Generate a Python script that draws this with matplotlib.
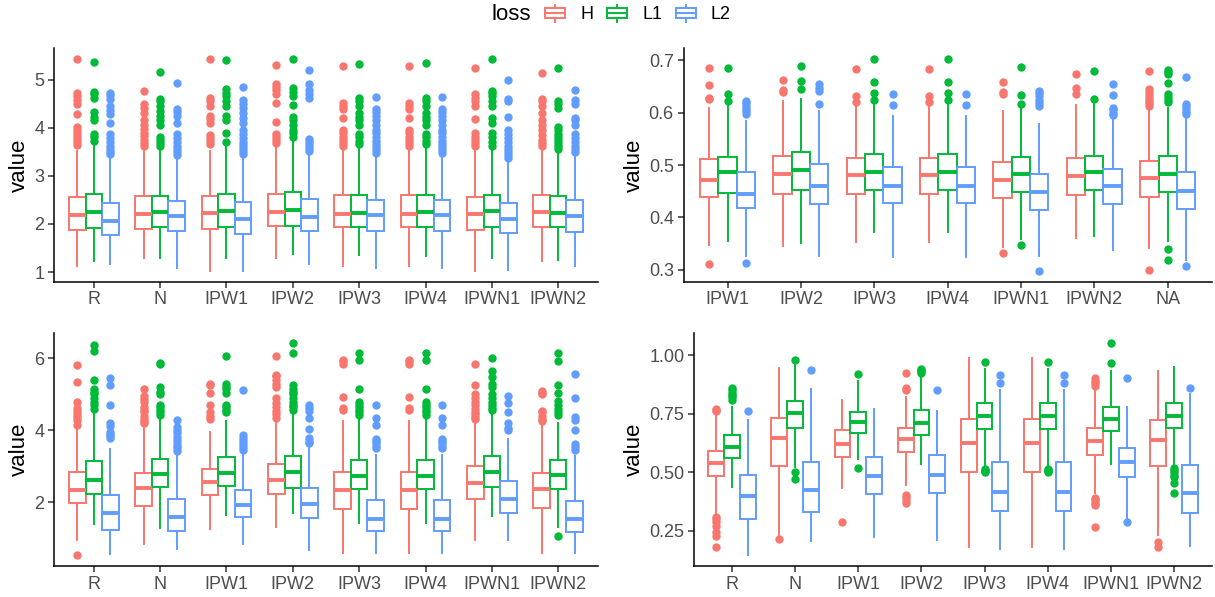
import matplotlib
matplotlib.use("Agg")
import matplotlib.pyplot as plt
from matplotlib.legend_handler import HandlerBase
from matplotlib.patches import Rectangle
from matplotlib.lines import Line2D

plt.rcParams['font.family'] = ['Liberation Sans', 'DejaVu Sans']

losses = ['H', 'L1', 'L2']
colors = {'H': '#F8766D', 'L1': '#00BA38', 'L2': '#619CFF'}

# each box: (whisker low, q1, median, q3, whisker high)

# ---- top left
p1_cats = ['R', 'N', 'IPW1', 'IPW2', 'IPW3', 'IPW4', 'IPWN1', 'IPWN2']
p1_H = [(1.12, 1.87, 2.19, 2.57, 3.52), (1.30, 1.90, 2.21, 2.58, 3.55), (1.02, 1.89, 2.23, 2.59, 3.52),
        (1.29, 1.95, 2.24, 2.63, 3.60), (1.12, 1.93, 2.21, 2.60, 3.55), (1.12, 1.93, 2.21, 2.60, 3.55),
        (1.02, 1.87, 2.20, 2.56, 3.52), (1.23, 1.94, 2.24, 2.60, 3.52)]
p1_L1 = [(1.24, 1.92, 2.24, 2.62, 3.62), (1.30, 1.93, 2.24, 2.59, 3.56), (1.30, 1.93, 2.26, 2.62, 3.62),
         (1.38, 1.96, 2.28, 2.66, 3.70), (1.36, 1.93, 2.23, 2.61, 3.60), (1.34, 1.93, 2.24, 2.61, 3.60),
         (1.30, 1.94, 2.26, 2.60, 3.56), (1.26, 1.94, 2.23, 2.58, 3.50)]
p1_L2 = [(1.17, 1.78, 2.06, 2.43, 3.38), (1.09, 1.86, 2.17, 2.48, 3.39), (1.03, 1.80, 2.11, 2.45, 3.40),
         (1.17, 1.86, 2.14, 2.52, 3.45), (1.09, 1.85, 2.18, 2.49, 3.42), (1.09, 1.85, 2.18, 2.49, 3.42),
         (1.04, 1.81, 2.10, 2.43, 3.33), (1.12, 1.84, 2.17, 2.49, 3.45)]
p1_H_out = [[3.64, 3.7, 3.76, 3.82, 3.88, 3.95, 4.02, 4.28, 4.5, 4.58, 4.65, 4.72, 5.42],
            [3.62, 3.68, 3.75, 3.82, 3.9, 3.98, 4.06, 4.15, 4.3, 4.4, 4.5, 4.77],
            [3.66, 3.72, 3.78, 3.84, 4.1, 4.18, 4.25, 4.45, 4.55, 4.62, 5.42],
            [3.68, 3.74, 3.8, 3.86, 4.12, 4.52, 4.7, 4.78, 4.85, 4.9, 5.31],
            [3.62, 3.68, 3.74, 3.8, 3.88, 3.96, 4.2, 4.38, 4.45, 4.52, 5.29],
            [3.62, 3.68, 3.74, 3.8, 3.88, 3.96, 4.2, 4.38, 4.45, 4.52, 5.29],
            [3.62, 3.68, 3.74, 3.8, 3.9, 4.18, 4.45, 4.55, 4.62, 4.7, 5.25],
            [3.62, 3.68, 3.75, 3.85, 3.95, 4.05, 4.15, 4.3, 4.45, 4.55, 4.6, 5.14]]
p1_L1_out = [[3.72, 3.8, 3.86, 4.15, 4.22, 4.32, 4.62, 4.7, 4.74, 5.36],
             [3.62, 3.68, 3.74, 3.8, 4.05, 4.15, 4.25, 4.35, 4.45, 4.55, 4.6, 5.16],
             [3.7, 3.9, 4.15, 4.25, 4.45, 4.55, 4.65, 4.72, 4.8, 5.41],
             [3.8, 3.88, 3.95, 4.05, 4.15, 4.22, 4.48, 4.65, 4.75, 4.82, 5.43],
             [3.66, 3.72, 3.8, 3.86, 4.05, 4.15, 4.22, 4.3, 4.45, 4.55, 4.62, 5.33],
             [3.66, 3.72, 3.8, 3.86, 4.05, 4.15, 4.22, 4.3, 4.45, 4.55, 4.62, 5.34],
             [3.62, 3.7, 3.8, 3.9, 4.1, 4.2, 4.45, 4.55, 4.65, 4.72, 4.77, 5.42],
             [3.56, 3.62, 3.68, 3.74, 3.8, 3.86, 3.95, 4.02, 4.42, 4.5, 4.56, 5.24]]
p1_L2_out = [[3.45, 3.5, 3.56, 3.62, 3.7, 3.78, 3.86, 4.1, 4.28, 4.36, 4.45, 4.6, 4.67, 4.72],
             [3.44, 3.5, 3.56, 3.62, 3.7, 3.78, 3.86, 4.1, 4.25, 4.32, 4.38, 4.92],
             [3.46, 3.52, 3.58, 3.64, 3.7, 3.78, 3.86, 3.95, 4.1, 4.2, 4.3, 4.4, 4.5, 4.58, 4.85],
             [3.52, 3.58, 3.64, 3.7, 3.76, 4.62, 4.7, 4.78, 4.9, 5.19],
             [3.48, 3.54, 3.6, 3.66, 3.72, 3.8, 3.88, 3.96, 4.05, 4.15, 4.25, 4.32, 4.38, 4.63],
             [3.48, 3.54, 3.6, 3.66, 3.72, 3.8, 3.88, 3.96, 4.05, 4.15, 4.25, 4.32, 4.38, 4.63],
             [3.38, 3.44, 3.5, 3.56, 3.62, 3.7, 3.78, 3.86, 3.95, 4.22, 4.55, 4.6, 4.99],
             [3.5, 3.56, 3.62, 3.7, 3.78, 3.86, 4.05, 4.15, 4.2, 4.5, 4.58, 4.78]]

# ---- top right
p2_cats = ['IPW1', 'IPW2', 'IPW3', 'IPW4', 'IPWN1', 'IPWN2', 'NA']
p2_H = [(0.346, 0.438, 0.472, 0.511, 0.610), (0.345, 0.445, 0.483, 0.518, 0.623), (0.353, 0.445, 0.480, 0.513, 0.618),
        (0.353, 0.445, 0.480, 0.513, 0.618), (0.343, 0.436, 0.471, 0.506, 0.604), (0.360, 0.443, 0.478, 0.513, 0.614),
        (0.341, 0.438, 0.476, 0.508, 0.603)]
p2_L1 = [(0.354, 0.447, 0.486, 0.515, 0.612), (0.350, 0.452, 0.490, 0.525, 0.627), (0.371, 0.453, 0.486, 0.521, 0.618),
         (0.371, 0.453, 0.486, 0.521, 0.618), (0.359, 0.448, 0.483, 0.515, 0.610), (0.364, 0.452, 0.486, 0.518, 0.617),
         (0.354, 0.448, 0.483, 0.517, 0.610)]
p2_L2 = [(0.325, 0.418, 0.445, 0.487, 0.585), (0.325, 0.425, 0.460, 0.501, 0.604), (0.324, 0.427, 0.460, 0.496, 0.594),
         (0.324, 0.427, 0.460, 0.496, 0.594), (0.325, 0.413, 0.449, 0.483, 0.579), (0.337, 0.425, 0.460, 0.492, 0.590),
         (0.319, 0.415, 0.450, 0.487, 0.590)]
p2_H_out = [[0.31, 0.627, 0.628, 0.653, 0.686], [0.64, 0.644, 0.663], [0.62, 0.632, 0.684],
            [0.62, 0.632, 0.684], [0.332, 0.636, 0.64, 0.658], [0.636, 0.647, 0.674],
            [0.30, 0.613, 0.618, 0.623, 0.628, 0.634, 0.64, 0.646, 0.68]]
p2_L1_out = [[0.622, 0.636, 0.685], [0.645, 0.661, 0.690], [0.624, 0.638, 0.659, 0.703],
             [0.624, 0.638, 0.659, 0.703], [0.346, 0.617, 0.634, 0.688], [0.626, 0.68],
             [0.319, 0.34, 0.62, 0.625, 0.63, 0.635, 0.657, 0.675, 0.678, 0.682]]
p2_L2_out = [[0.312, 0.598, 0.603, 0.608, 0.613, 0.618, 0.622], [0.617, 0.641, 0.648, 0.655], [0.615, 0.635],
             [0.615, 0.635], [0.297, 0.612, 0.618, 0.625, 0.632, 0.637, 0.642], [0.595, 0.6, 0.605, 0.61, 0.634, 0.655],
             [0.307, 0.597, 0.602, 0.607, 0.612, 0.617, 0.668]]

# ---- bottom left
p3_cats = ['R', 'N', 'IPW1', 'IPW2', 'IPW3', 'IPW4', 'IPWN1', 'IPWN2']
p3_H = [(0.95, 1.98, 2.35, 2.84, 4.05), (0.84, 1.90, 2.41, 2.82, 4.08), (1.26, 2.20, 2.56, 2.94, 3.95),
        (1.32, 2.24, 2.63, 3.07, 4.30), (0.60, 1.81, 2.35, 2.85, 4.27), (0.60, 1.81, 2.35, 2.85, 4.27),
        (0.95, 2.11, 2.54, 3.00, 4.27), (0.61, 1.86, 2.36, 2.82, 4.20)]
p3_L1 = [(1.40, 2.24, 2.62, 3.16, 4.50), (1.28, 2.42, 2.80, 3.21, 4.36), (1.64, 2.46, 2.83, 3.25, 4.27),
         (1.70, 2.40, 2.85, 3.28, 4.50), (1.44, 2.37, 2.74, 3.19, 4.36), (1.44, 2.37, 2.74, 3.19, 4.36),
         (1.63, 2.42, 2.84, 3.28, 4.50), (1.31, 2.37, 2.77, 3.18, 4.21)]
p3_L2 = [(0.58, 1.24, 1.70, 2.20, 3.48), (0.70, 1.20, 1.59, 2.09, 3.32), (0.84, 1.59, 1.93, 2.34, 3.31),
         (0.68, 1.56, 1.95, 2.40, 3.60), (0.60, 1.20, 1.54, 2.07, 3.32), (0.60, 1.20, 1.54, 2.07, 3.32),
         (0.97, 1.72, 2.11, 2.60, 3.77), (0.61, 1.19, 1.55, 2.05, 3.28)]
p3_H_out = [[0.53, 4.15, 4.3, 4.38, 4.45, 4.55, 4.62, 4.8, 5.35, 5.82],
            [4.2, 4.25, 4.32, 4.4, 4.5, 4.58, 4.66, 4.8, 4.88, 4.95, 5.15],
            [4.32, 4.4, 4.5, 4.7, 5.05, 5.25, 5.3],
            [4.35, 4.45, 4.55, 4.65, 4.75, 4.9, 5.2, 5.3, 5.4, 5.5, 5.55, 6.08],
            [4.58, 4.62, 4.92, 5.85, 5.92, 5.97],
            [4.58, 4.62, 4.92, 5.85, 5.92, 5.97],
            [4.32, 4.38, 4.45, 4.52, 4.6, 4.7, 4.8, 4.9, 5.0, 5.27, 5.85],
            [4.25, 4.32, 4.4, 4.5, 4.55, 5.0, 5.05, 5.1]]
p3_L1_out = [[4.6, 4.7, 4.8, 4.9, 5.0, 5.08, 5.15, 5.4, 6.2, 6.38],
             [4.42, 4.5, 4.58, 4.65, 4.72, 5.0, 5.08, 5.22, 5.85, 5.88],
             [4.5, 4.58, 4.65, 4.72, 5.05, 5.15, 5.22, 5.28, 6.07],
             [4.58, 4.65, 4.72, 4.8, 4.9, 5.0, 5.08, 5.15, 5.25, 6.15, 6.42],
             [4.42, 4.5, 4.58, 4.65, 4.72, 4.8, 5.15, 5.95, 6.15],
             [4.42, 4.5, 4.58, 4.65, 4.72, 4.8, 5.15, 5.95, 6.15],
             [4.56, 4.62, 4.7, 4.8, 4.9, 5.0, 5.22, 5.3, 5.48, 5.65, 6.0],
             [1.07, 4.42, 4.5, 4.6, 4.7, 4.82, 5.05, 5.25, 5.92, 6.15]]
p3_L2_out = [[3.8, 3.85, 3.9, 3.95, 4.12, 4.2, 4.7, 5.25, 5.45],
             [3.42, 3.5, 3.58, 3.66, 3.74, 3.82, 3.92, 4.02, 4.1, 4.28],
             [3.45, 3.55, 3.62, 3.7, 3.78, 3.86, 5.12],
             [3.66, 3.72, 3.8, 4.05, 4.35, 4.55, 4.62, 4.7],
             [3.52, 3.58, 3.64, 3.7, 3.76, 4.15, 4.35, 4.72],
             [3.52, 3.58, 3.64, 3.7, 3.76, 4.15, 4.35, 4.72],
             [4.0, 4.08, 4.2, 4.5, 4.75, 4.95],
             [3.45, 3.55, 3.62, 4.0, 4.3, 4.36, 4.9, 5.57]]

# ---- bottom right
p4_cats = ['R', 'N', 'IPW1', 'IPW2', 'IPW3', 'IPW4', 'IPWN1', 'IPWN2']
p4_H = [(0.32, 0.483, 0.539, 0.593, 0.75), (0.235, 0.529, 0.648, 0.730, 0.943), (0.434, 0.564, 0.620, 0.680, 0.808),
        (0.445, 0.586, 0.641, 0.690, 0.82), (0.182, 0.502, 0.626, 0.727, 0.987), (0.182, 0.502, 0.626, 0.727, 0.987),
        (0.41, 0.574, 0.634, 0.691, 0.86), (0.232, 0.526, 0.638, 0.722, 0.933)]
p4_L1 = [(0.438, 0.559, 0.609, 0.658, 0.78), (0.523, 0.687, 0.751, 0.805, 0.964), (0.555, 0.667, 0.713, 0.757, 0.888),
         (0.537, 0.661, 0.711, 0.765, 0.915), (0.53, 0.685, 0.742, 0.794, 0.94), (0.53, 0.685, 0.742, 0.794, 0.94),
         (0.535, 0.676, 0.728, 0.779, 0.93), (0.537, 0.688, 0.741, 0.795, 0.947)]
p4_L2 = [(0.146, 0.303, 0.401, 0.488, 0.722), (0.206, 0.330, 0.424, 0.543, 0.855), (0.223, 0.408, 0.486, 0.566, 0.771),
         (0.210, 0.412, 0.490, 0.574, 0.762), (0.173, 0.334, 0.417, 0.545, 0.85), (0.173, 0.334, 0.417, 0.545, 0.85),
         (0.30, 0.481, 0.542, 0.604, 0.779), (0.185, 0.327, 0.411, 0.533, 0.836)]
p4_H_out = [[0.18, 0.23, 0.245, 0.27, 0.29, 0.30, 0.31, 0.76, 0.765, 0.77], [0.215], [0.29],
            [0.37, 0.38, 0.395, 0.405, 0.85, 0.86, 0.925], [], [],
            [0.265, 0.36, 0.37, 0.38, 0.39, 0.87, 0.88, 0.89, 0.90], [0.18, 0.205]]
p4_L1_out = [[0.81, 0.82, 0.83, 0.84, 0.85, 0.86], [0.47, 0.50, 0.98], [0.517, 0.918],
             [0.925, 0.93, 0.935, 0.94], [0.50, 0.505, 0.51, 0.515, 0.97], [0.50, 0.505, 0.51, 0.515, 0.97],
             [0.965, 1.05], [0.41, 0.455, 0.48, 0.49, 0.50, 0.51, 0.52]]
p4_L2_out = [[0.76], [0.937], [], [0.85], [0.88, 0.915], [0.88, 0.915], [0.288, 0.90], [0.86]]

panels = [
    (p1_cats, {'H': (p1_H, p1_H_out), 'L1': (p1_L1, p1_L1_out), 'L2': (p1_L2, p1_L2_out)},
     [1, 2, 3, 4, 5], ['1', '2', '3', '4', '5']),
    (p2_cats, {'H': (p2_H, p2_H_out), 'L1': (p2_L1, p2_L1_out), 'L2': (p2_L2, p2_L2_out)},
     [0.3, 0.4, 0.5, 0.6, 0.7], ['0.3', '0.4', '0.5', '0.6', '0.7']),
    (p3_cats, {'H': (p3_H, p3_H_out), 'L1': (p3_L1, p3_L1_out), 'L2': (p3_L2, p3_L2_out)},
     [2, 4, 6], ['2', '4', '6']),
    (p4_cats, {'H': (p4_H, p4_H_out), 'L1': (p4_L1, p4_L1_out), 'L2': (p4_L2, p4_L2_out)},
     [0.25, 0.5, 0.75, 1.0], ['0.25', '0.50', '0.75', '1.00']),
]

# axes rectangles in pixels on a 1215x597 canvas (left, top, right, bottom)
W, H = 1215, 597
rects = [
    (54, 48.3, 598, 281.7),
    (683.5, 48.3, 1211.7, 281.7),
    (54, 332.7, 598, 566),
    (694, 332.7, 1212, 566),
]

fig = plt.figure(figsize=(W / 100, H / 100), dpi=100)

LW = 1.4
offsets = {'H': -0.25, 'L1': 0.0, 'L2': 0.25}

for (cats, series, yt, ytl), (x0, y0, x1, y1) in zip(panels, rects):
    ax = fig.add_axes([x0 / W, 1 - y1 / H, (x1 - x0) / W, (y1 - y0) / H])
    allv = []
    for loss in losses:
        boxes, outs = series[loss]
        c = colors[loss]
        stats = []
        for b, o in zip(boxes, outs):
            stats.append(dict(whislo=b[0], q1=b[1], med=b[2], q3=b[3], whishi=b[4], fliers=o))
            allv += [b[0], b[4]] + list(o)
        pos = [i + offsets[loss] for i in range(len(cats))]
        ax.bxp(stats, positions=pos, widths=0.25, showcaps=False, patch_artist=True,
               boxprops=dict(facecolor='white', edgecolor=c, linewidth=LW),
               whiskerprops=dict(color=c, linewidth=LW),
               medianprops=dict(color=c, linewidth=LW * 2, solid_capstyle='butt'),
               flierprops=dict(marker='o', markerfacecolor=c, markeredgecolor=c, markersize=5, linestyle='none'),
               manage_ticks=False)
    # ggplot style 5% expansion
    lo, hi = min(allv), max(allv)
    pad = (hi - lo) * 0.05
    ax.set_ylim(lo - pad, hi + pad)
    ax.set_xlim(-0.6, len(cats) - 1 + 0.6)
    ax.set_xticks(range(len(cats)), cats)
    ax.set_yticks(yt, ytl)
    ax.set_ylabel('value', fontsize=16, labelpad=3)
    for s in ['top', 'right']:
        ax.spines[s].set_visible(False)
    for s in ['left', 'bottom']:
        ax.spines[s].set_color('black')
        ax.spines[s].set_linewidth(1.1)
    ax.tick_params(length=4, width=1.1, color='#333333', labelcolor='#4D4D4D', labelsize=13, pad=3)


class BoxKey(HandlerBase):
    def create_artists(self, legend, orig_handle, xdescent, ydescent, width, height, fontsize, trans):
        c = orig_handle.get_edgecolor()
        x0, y0 = -xdescent, -ydescent
        bx = Rectangle((x0 + 0.1 * width, y0 + 0.2 * height), 0.8 * width, 0.6 * height,
                       facecolor='white', edgecolor=c, lw=LW, transform=trans)
        med = Line2D([x0 + 0.1 * width, x0 + 0.9 * width], [y0 + 0.5 * height] * 2, color=c, lw=LW, transform=trans)
        w1 = Line2D([x0 + 0.5 * width] * 2, [y0, y0 + 0.2 * height], color=c, lw=LW, transform=trans)
        w2 = Line2D([x0 + 0.5 * width] * 2, [y0 + 0.8 * height, y0 + height], color=c, lw=LW, transform=trans)
        return [bx, med, w1, w2]


handles = [Rectangle((0, 0), 1, 1, facecolor='white', edgecolor=colors[l]) for l in losses]
fig.text(491.7 / W, 1 - 14 / H, 'loss', fontsize=16, va='center', ha='left')
fig.legend(handles, losses, handler_map={Rectangle: BoxKey()}, loc='center left',
           bbox_to_anchor=(542.5 / W, 1 - 14 / H), ncol=3, frameon=False, fontsize=13,
           handlelength=1.4, handleheight=1.1, handletextpad=0.7, columnspacing=0.6,
           borderpad=0, borderaxespad=0)

fig.savefig('out.png', dpi=100)
